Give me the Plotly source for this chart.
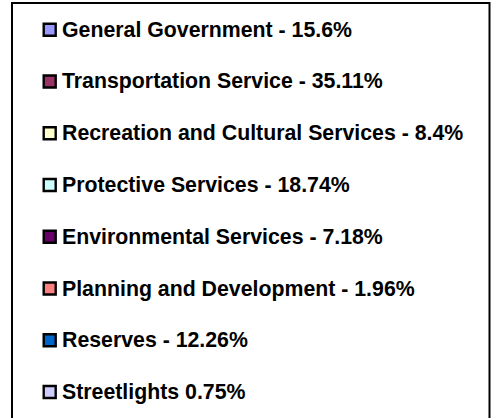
import plotly.graph_objects as go

# budget shares (pie legend only)
categories = [
    'General Government - 15.6%',
    'Transportation Service - 35.11%',
    'Recreation and Cultural Services - 8.4%',
    'Protective Services - 18.74%',
    'Environmental Services - 7.18%',
    'Planning and Development - 1.96%',
    'Reserves - 12.26%',
    'Streetlights 0.75%',
]
shares = [15.6, 35.11, 8.4, 18.74, 7.18, 1.96, 12.26, 0.75]
colors = ['#9999FF', '#993366', '#FFFFCC', '#CCFFFF',
          '#660066', '#FF8080', '#0066CC', '#CCCCFF']

W, H = 492, 418
fnt = dict(family='Liberation Sans, Arial, sans-serif', size=21.3, color='#000000', weight='bold')

fig = go.Figure()

# legend keys, one square per category
fig.add_trace(go.Scatter(
    x=[0] * len(categories),
    y=categories,
    mode='markers',
    marker=dict(symbol='square', size=12, color=colors,
                line=dict(color='#000000', width=2.4)),
    customdata=shares,
    hoverinfo='skip',
    showlegend=False,
))

# legend labels
for cat in categories:
    fig.add_annotation(
        x=0, y=cat, xref='x', yref='y',
        text=cat, showarrow=False,
        xanchor='left', yanchor='middle', xshift=10,
        font=fnt,
    )

# legend frame
fig.add_shape(
    type='rect', xref='paper', yref='paper',
    x0=12 / W, x1=489.5 / W, y0=-0.05, y1=1 - 3 / H,
    line=dict(color='#000000', width=2),
    fillcolor='rgba(0,0,0,0)', layer='below',
)

fig.update_xaxes(visible=False, range=[-49.7, W - 49.7], fixedrange=True)
fig.update_yaxes(visible=False, type='category', range=[7.502, -0.574], fixedrange=True)

fig.update_layout(
    width=W, height=H,
    margin=dict(l=0, r=0, t=0, b=0),
    paper_bgcolor='white', plot_bgcolor='white',
    showlegend=False,
)

fig.write_html('out.html', config={'displayModeBar': False},
               post_script="document.body.style.margin='0';")
